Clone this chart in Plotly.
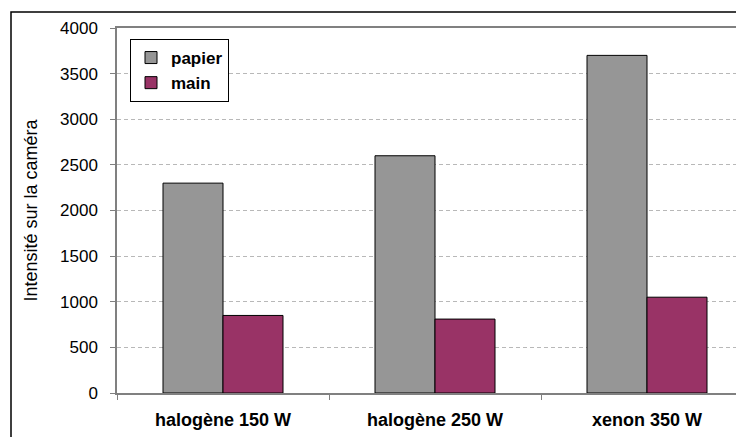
import plotly.graph_objects as go

categories = ["halogène 150 W", "halogène 250 W", "xenon 350 W"]
papier = [2300, 2600, 3700]
main = [850, 810, 1050]
y_ticks = [0, 500, 1000, 1500, 2000, 2500, 3000, 3500, 4000]

FONT = "Liberation Sans, Arial, sans-serif"

fig = go.Figure()
fig.add_trace(go.Bar(name="papier", x=categories, y=papier,
                     marker=dict(color="#969696", line=dict(color="#000000", width=1)),
                     legendgroup="a"))
fig.add_trace(go.Bar(name="main", x=categories, y=main,
                     marker=dict(color="#993366", line=dict(color="#000000", width=1)),
                     legendgroup="b"))

# page has an 8px body margin, so the figure is offset by 8px
W, H = 736, 429
L, R, T, B = 109, 0, 20, 44
pw, ph = W - L - R, H - T - B

fig.update_layout(
    width=W, height=H,
    margin=dict(l=L, r=R, t=T, b=B, autoexpand=False),
    paper_bgcolor="white", plot_bgcolor="white",
    barmode="group", bargap=0.434, bargroupgap=0,
    font=dict(family=FONT, color="#000000", size=17),
    showlegend=True,
    legend=dict(x=13 / pw, y=1 - 11 / ph, xanchor="left", yanchor="top",
                bordercolor="#000000", borderwidth=1, bgcolor="white",
                font=dict(family=FONT, size=17, color="#000000", weight="bold"),
                tracegroupgap=4, traceorder="normal", itemwidth=30),
    xaxis=dict(range=[-0.5, -0.5 + pw / 212.0], showline=True, mirror=True,
               linecolor="#808080", linewidth=1.5, ticks="outside", tickson="boundaries",
               ticklen=5, tickcolor="#808080", showgrid=False,
               tickfont=dict(family=FONT, size=18, weight="bold"), ticklabelstandoff=10),
    yaxis=dict(range=[0, 4000], tickvals=y_ticks, showline=True, linecolor="#808080",
               linewidth=1.5, ticks="outside", ticklen=5, tickcolor="#808080",
               showgrid=True, gridcolor="#b8b8b8", griddash="4px,3px", gridwidth=1,
               zeroline=False, tickfont=dict(family=FONT, size=17),
               ticklabelstandoff=9,
               title=dict(text="Intensité sur la caméra", standoff=18,
                          font=dict(family=FONT, size=18))),
    shapes=[dict(type="rect", xref="paper", yref="paper",
                 x0=(3 - L) / pw, x1=1.05, y0=-0.3, y1=1 + (T - 4) / ph,
                 line=dict(color="#000000", width=1.5), fillcolor="rgba(0,0,0,0)",
                 layer="below")],
)

fig.write_html("out.html")
